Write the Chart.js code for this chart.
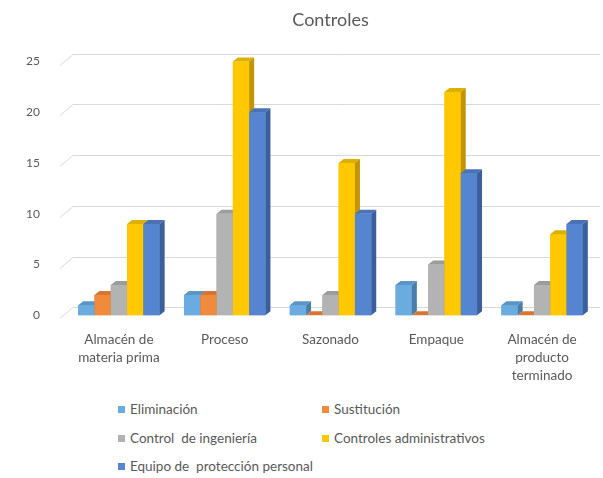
<!DOCTYPE html>
<html>
<head>
<meta charset="utf-8">
<script src="https://cdn.jsdelivr.net/npm/chart.js@4"></script>
<style>
  body { margin: 0; background: #fff; font-family: Lato, "Liberation Sans", sans-serif; }
  #wrap { position: relative; width: 603px; height: 478px; }
  #chart { position: absolute; left: 0; top: 0; }
  .legend-item { position: absolute; font-size: 13.5px; color: #595959; white-space: pre; line-height: 15px; }
  .legend-item span { display: inline-block; width: 7px; height: 7px; margin-right: 5px; vertical-align: 1px; }
</style>
</head>
<body>
<div id="wrap">
  <canvas id="chart" width="603" height="392"></canvas>
</div>
<script>
const categories = [
  ["Almacén de", "materia prima"],
  "Proceso",
  "Sazonado",
  "Empaque",
  ["Almacén de", "producto", "terminado"]
];
const seriesNames = [
  "Eliminación",
  "Sustitución",
  "Control  de ingeniería",
  "Controles administrativos",
  "Equipo de  protección personal"
];
const eliminacion = [1, 2, 1, 3, 1];
const sustitucion = [2, 2, 0, 0, 0];
const controlIngenieria = [3, 10, 2, 5, 3];
const controlesAdmin = [9, 25, 15, 22, 8];
const equipoProteccion = [9, 20, 10, 14, 9];
const yTicks = [0, 5, 10, 15, 20, 25];

const seriesValues = [eliminacion, sustitucion, controlIngenieria, controlesAdmin, equipoProteccion];
const frontColors = ["#6aabe0", "#f08b3e", "#b3b3b3", "#ffc800", "#5585d0"];
const sideColors = ["#4a7ea8", "#b0622a", "#878787", "#bf9500", "#3a5f9c"];
const topColors = ["#5a95c6", "#d77632", "#9c9c9c", "#ddb000", "#4a72b5"];

const DX = 5, DY = 4;

// gridlines drawn on a slanted "back wall"
const backWall = {
  id: "backWall",
  beforeDatasetsDraw(chart) {
    const ctx = chart.ctx;
    const y = chart.scales.y;
    const area = chart.chartArea;
    ctx.save();
    ctx.strokeStyle = "#d9d9d9";
    ctx.lineWidth = 1;
    yTicks.forEach(v => {
      const py = Math.round(y.getPixelForValue(v)) + 0.5;
      ctx.beginPath();
      ctx.moveTo(area.left - 6, py + 3);
      ctx.lineTo(area.left + 7, py - 8);
      ctx.lineTo(area.right + 5, py - 8);
      ctx.stroke();
    });
    ctx.restore();
  }
};

// 3D faces for each bar, left to right so the next bar hides the side
const bars3d = {
  id: "bars3d",
  afterDatasetsDraw(chart) {
    const ctx = chart.ctx;
    ctx.save();
    categories.forEach((c, i) => {
      chart.data.datasets.forEach((ds, d) => {
        const bar = chart.getDatasetMeta(d).data[i];
        const l = bar.x - bar.width / 2;
        const r = bar.x + bar.width / 2;
        const top = bar.y;
        const base = bar.base;
        ctx.fillStyle = frontColors[d];
        ctx.fillRect(l, top, r - l, base - top);
        ctx.fillStyle = topColors[d];
        ctx.beginPath();
        ctx.moveTo(l, top);
        ctx.lineTo(l + DX, top - DY);
        ctx.lineTo(r + DX, top - DY);
        ctx.lineTo(r, top);
        ctx.closePath();
        ctx.fill();
        ctx.fillStyle = sideColors[d];
        ctx.beginPath();
        ctx.moveTo(r, top);
        ctx.lineTo(r + DX, top - DY);
        ctx.lineTo(r + DX, base - DY);
        ctx.lineTo(r, base);
        ctx.closePath();
        ctx.fill();
      });
    });
    ctx.restore();
  }
};

const datasets = seriesNames.map((name, d) => ({
  label: name,
  data: seriesValues[d],
  backgroundColor: frontColors[d],
  barPercentage: 1,
  categoryPercentage: 0.77
}));

new Chart(document.getElementById("chart"), {
  type: "bar",
  data: { labels: categories, datasets: datasets },
  plugins: [backWall, bars3d],
  options: {
    responsive: false,
    animation: false,
    layout: { padding: { top: 9, right: 8, left: 0, bottom: 0 } },
    plugins: {
      legend: { display: false },
      tooltip: { enabled: false },
      title: {
        display: true,
        fullSize: false,
        text: "Controles",
        color: "#595959",
        font: { family: "Lato", size: 18, weight: "normal" },
        padding: { top: 0, bottom: 31 }
      }
    },
    scales: {
      x: {
        grid: { display: false },
        border: { display: false },
        ticks: {
          color: "#595959",
          font: { family: "Lato", size: 13.5, lineHeight: 1.3 },
          padding: 8,
          maxRotation: 0,
          autoSkip: false
        }
      },
      y: {
        min: 0,
        max: 25,
        afterFit(scale) { scale.width = 66; },
        grid: { display: false },
        border: { display: false },
        ticks: {
          stepSize: 5,
          color: "#595959",
          font: { family: "Lato", size: 12 },
          padding: 18
        }
      }
    }
  }
});

// legend in two columns below the chart
const legendPos = [[118, 402], [322, 402], [118, 431], [322, 431], [118, 459]];
const wrap = document.getElementById("wrap");
seriesNames.forEach((name, d) => {
  const item = document.createElement("div");
  item.className = "legend-item";
  item.style.left = legendPos[d][0] + "px";
  item.style.top = legendPos[d][1] + "px";
  item.innerHTML = '<span style="background:' + frontColors[d] + '"></span>';
  item.appendChild(document.createTextNode(name));
  wrap.appendChild(item);
});
</script>
</body>
</html>
